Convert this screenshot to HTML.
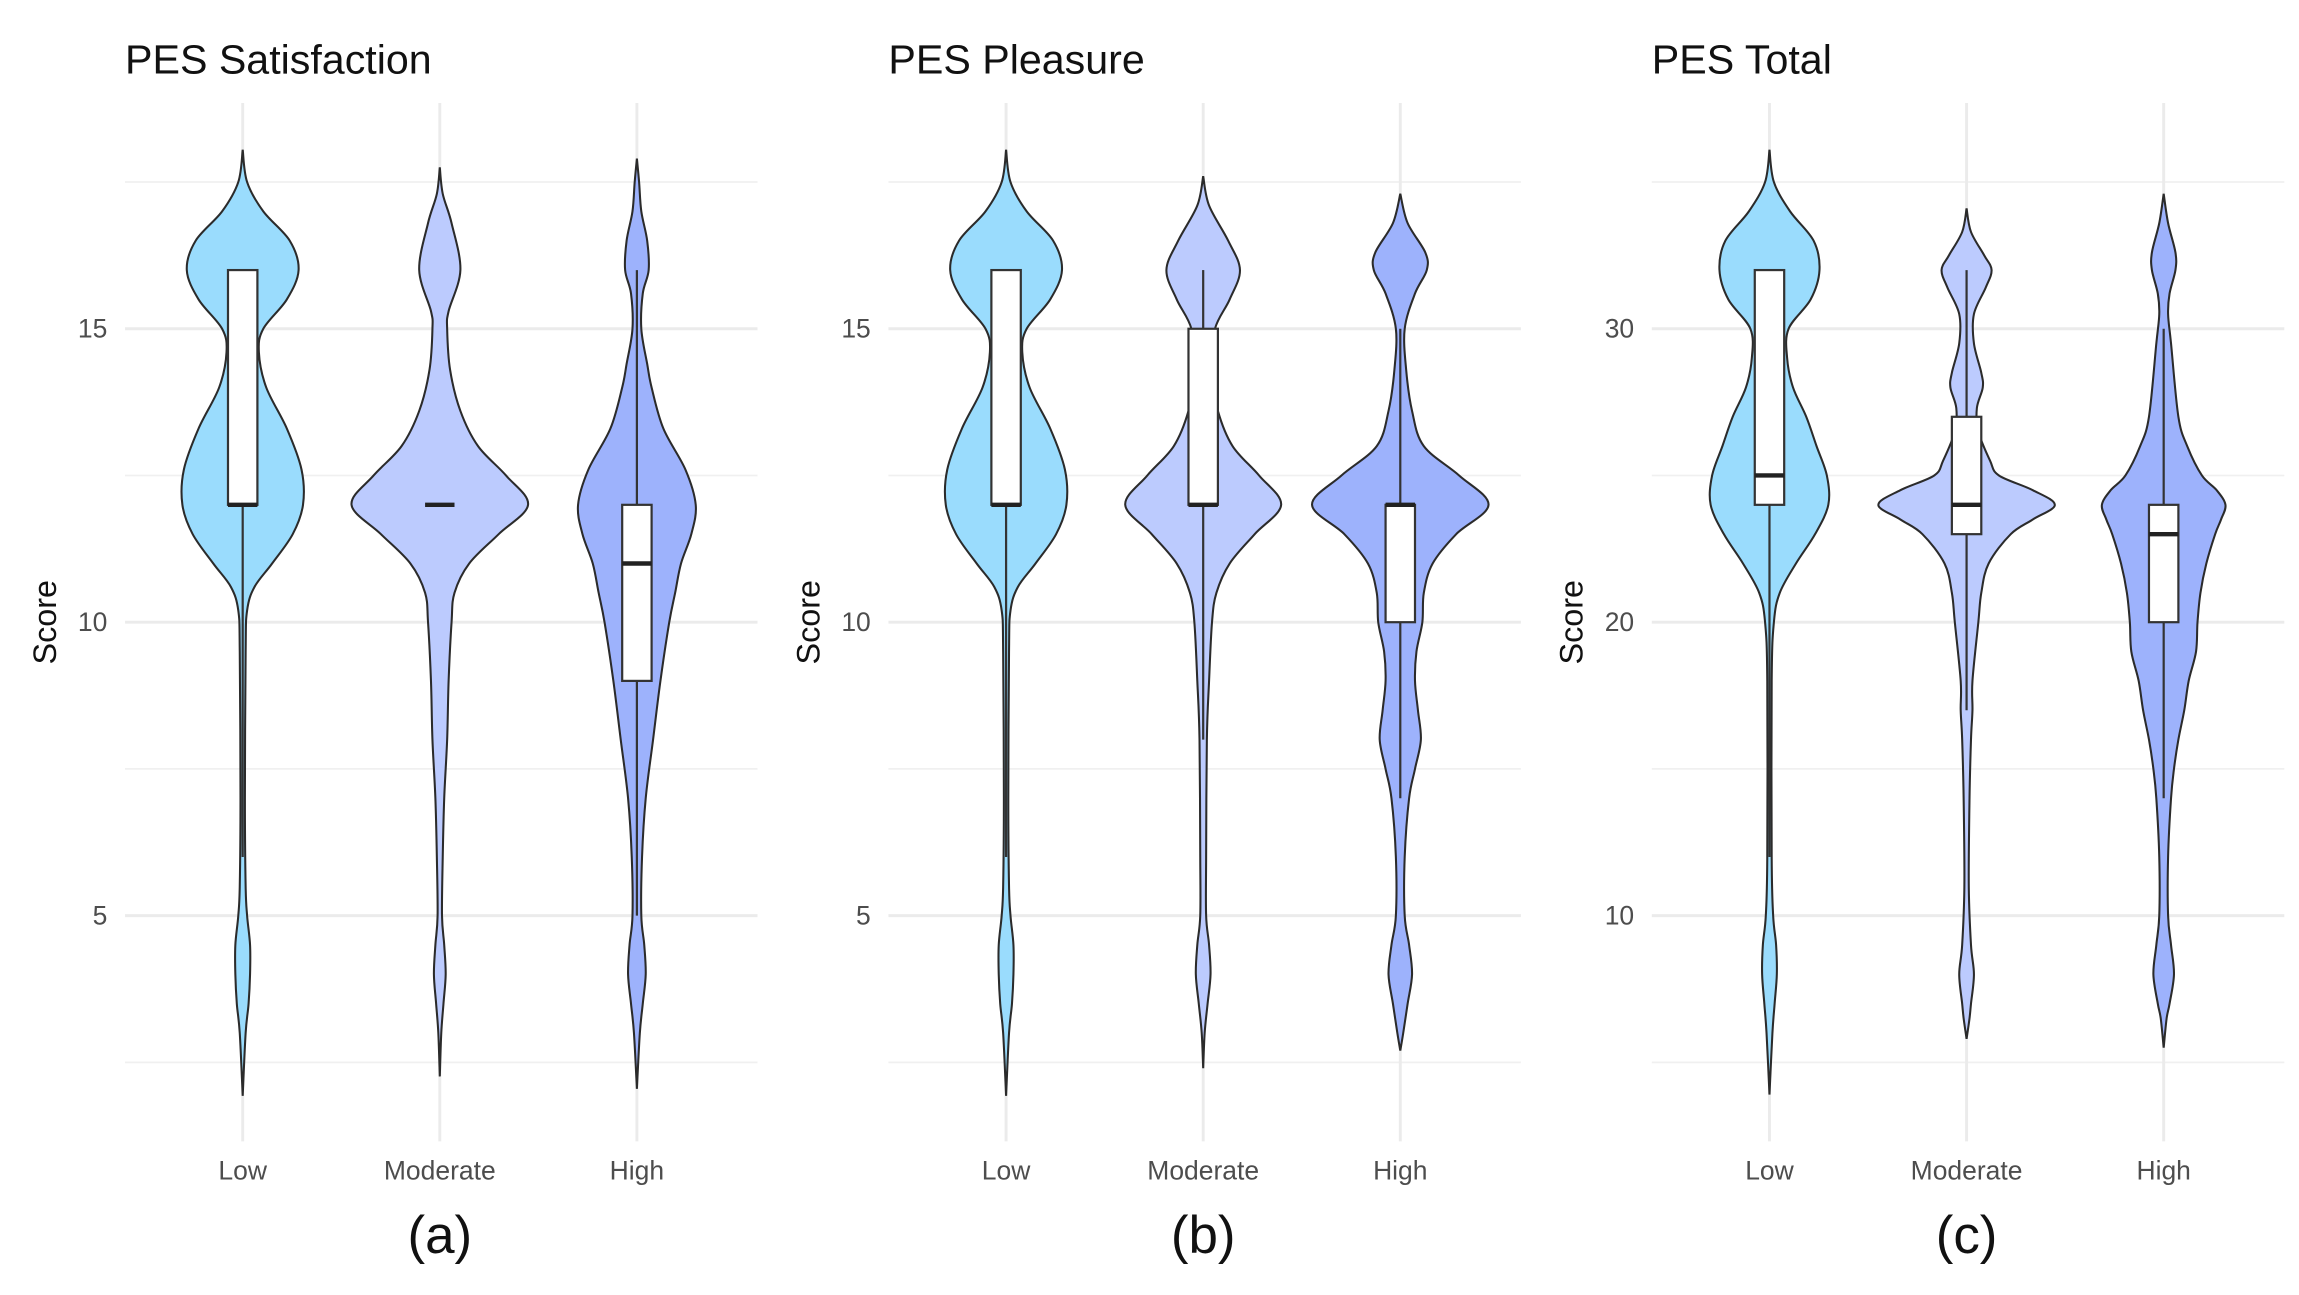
<!DOCTYPE html>
<html><head><meta charset="utf-8">
<style>
html,body{margin:0;padding:0;background:#fff;}
svg{display:block;font-family:"Liberation Sans",Arial,sans-serif;}
</style></head>
<body>
<svg id="chart" width="2299" height="1295" viewBox="0 0 1563 880.4" xmlns="http://www.w3.org/2000/svg"></svg>
<script>
// ---------- data ----------
const categories = ["Low", "Moderate", "High"];
const panelTitles = ["PES Satisfaction", "PES Pleasure", "PES Total"];
const panelLetters = ["(a)", "(b)", "(c)"];
const majorTicksA = [5, 10, 15];
const majorTicksC = [10, 20, 30];
// density profiles: [value, half-width]
const satLow = [[18.05,0],[17.5,3],[17,14],[16.5,32],[16,38],[15.5,30],[15,14],[14.6,11],[14,16],[13.3,30],[12.6,40],[12,41],[11.5,34],[11,20],[10.6,8],[10.2,3],[9.5,2],[7,1.5],[5.5,2],[5,3],[4.5,5],[4,5],[3.5,4],[3,2],[1.93,0]];
const satMod = [[17.75,0],[17.3,2],[16.8,8],[16,14],[15.3,6],[15,5],[14.3,7],[13.6,14],[13,26],[12.5,45],[12,60],[11.5,40],[11,20],[10.5,10],[10,8],[9,6],[8,5],[7,3],[6,2],[5,1.5],[4.5,3],[4,4],[3.5,2.5],[3,1],[2.26,0]];
const satHigh = [[17.9,0],[17.5,1.5],[17,3],[16.5,7],[16,8],[15.6,4],[15,3],[14.4,7],[14,10],[13.3,18],[12.6,33],[12,40],[11.5,37],[11,30],[10.5,26],[10,22],[9,16],[8,11],[7,6],[6,3.5],[5,3],[4.5,5],[4,6],[3.5,4],[3,2],[2.05,0]];
const pleLow = [[18.05,0],[17.5,3],[17,14],[16.5,32],[16,38],[15.5,30],[15,14],[14.6,11],[14,16],[13.3,30],[12.6,40],[12,41],[11.5,34],[11,20],[10.6,8],[10.2,3],[9.5,2],[7,1.5],[5.5,2],[5,3],[4.5,5],[4,5],[3.5,4],[3,2],[1.93,0]];
const pleMod = [[17.6,0],[17.1,4],[16.5,17],[16,25],[15.5,18],[15,8],[14.3,5],[13.6,10],[13,20],[12.5,38],[12,53],[11.5,35],[11,18],[10.5,9],[10,6],[9,4],[8,2.5],[6,2],[5,2],[4.5,4],[4,5],[3.5,3],[3,1],[2.4,0]];
const pleHigh = [[17.3,0],[16.8,5],[16.3,17],[16,18],[15.6,10],[15,3],[14.3,4],[13.6,8],[13,16],[12.5,40],[12,60],[11.5,38],[11,22],[10.5,16],[10,15],[9.5,11],[9,10],[8.5,12],[8,14],[7.5,10],[7,6],[6,3],[5,3],[4.5,6],[4,8],[3.5,5],[3,2],[2.7,0]];
const totLow = [[36.1,0],[35,3],[34,14],[33,30],[32,34],[31,28],[30,13],[29,12],[28,16],[27,25],[26,32],[25,39],[24,40],[23,31],[22,18],[21,7],[20,3],[18,1.5],[12,1.5],[10,2.5],[9,4.5],[8,5],[7,3.5],[6,2],[3.9,0]];
const totMod = [[34.1,0],[33.3,3],[32.5,12],[32,17],[31.4,13],[30.5,5],[29.5,5],[28.5,10],[28,11],[27.3,7],[26.5,8],[25.5,16],[25,22],[24.5,45],[24,60],[23.5,45],[23,30],[22,15],[21,10],[20,8],[18,4],[17,4],[16,3],[14,2],[11,1.5],[9,3],[8,5],[7,3],[6.5,2],[5.8,0]];
const totHigh = [[34.6,0],[33.6,3],[32.6,8],[32,8],[31.2,4],[30.5,3],[29.5,5],[27,10],[26,16],[25,26],[24.5,36],[24,42],[23.5,39],[23,35],[22,29],[21,25],[20,23],[19,22],[18,17],[17,14],[16,10],[15,7],[14,5],[12,3],[10,3],[9,5],[8,7],[7,4],[6.5,2],[5.5,0]];
// box stats: [whiskerLow, q1, median, q3, whiskerHigh]
const satBoxes = [[6,12,12,16,16],[12,12,12,12,12],[5,9,11,12,16]];
const pleBoxes = [[6,12,12,16,16],[8,12,12,15,16],[7,10,12,12,15]];
const totBoxes = [[12,24,25,32,32],[17,23,24,27,32],[14,20,23,24,30]];

const panels = [
  {violins:[satLow,satMod,satHigh], boxes:satBoxes, ticks:majorTicksA, scale:1},
  {violins:[pleLow,pleMod,pleHigh], boxes:pleBoxes, ticks:majorTicksA, scale:1},
  {violins:[totLow,totMod,totHigh], boxes:totBoxes, ticks:majorTicksC, scale:2}
];
const fills = ["#9adcfd","#bccbfe","#9db2fc"];

// ---------- drawing ----------
const NS = "http://www.w3.org/2000/svg";
const svg = document.getElementById("chart");
function mk(tag, attrs, parent){
  const e = document.createElementNS(NS, tag);
  for (const k in attrs) e.setAttribute(k, attrs[k]);
  (parent||svg).appendChild(e);
  return e;
}
function smoothPath(pts){
  let d = "M" + pts[0][0].toFixed(2) + "," + pts[0][1].toFixed(2);
  for (let i=0;i<pts.length-1;i++){
    const p0 = pts[Math.max(0,i-1)], p1 = pts[i], p2 = pts[i+1], p3 = pts[Math.min(pts.length-1,i+2)];
    const c1x = p1[0]+(p2[0]-p0[0])/6, c1y = p1[1]+(p2[1]-p0[1])/6;
    const c2x = p2[0]-(p3[0]-p1[0])/6, c2y = p2[1]-(p3[1]-p1[1])/6;
    d += " C"+c1x.toFixed(2)+","+c1y.toFixed(2)+" "+c2x.toFixed(2)+","+c2y.toFixed(2)+" "+p2[0].toFixed(2)+","+p2[1].toFixed(2);
  }
  return d;
}

panels.forEach((p, pi) => {
  const off = pi*519;
  const left = 85+off, right = 515+off;
  const catX = i => 165 + off + i*134;
  const yScale = v => 423 - (v/p.scale - 10)*39.9;
  const g = mk("g", {});
  
  

  [2.5,7.5,12.5,17.5].forEach(m => {
    const ln = mk("line", {x1:left, x2:right, y1:yScale(m*p.scale), y2:yScale(m*p.scale), stroke:"#f0f0f0", "stroke-width":1.2}, g);
    
    
  });
  p.ticks.forEach(t => {
    const y = yScale(t);
    const ln = mk("line", {x1:left, x2:right, y1:y, y2:y, stroke:"#ebebeb", "stroke-width":2}, g);
    
    
    const tx = mk("text", {x:73+off, y:y+6, "text-anchor":"end", "font-size":18, fill:"#4d4d4d"}, g);
    tx.textContent = t;
    
    
  });
  categories.forEach((c, i) => {
    const ln = mk("line", {x1:catX(i), x2:catX(i), y1:70, y2:776, stroke:"#ebebeb", "stroke-width":2}, g);
    
    
  });
  p.violins.forEach((prof, i) => {
    const cx = catX(i);
    const rightSide = prof.map(d => [cx + d[1], yScale(d[0])]);
    const leftSide = prof.slice().reverse().map(d => [cx - d[1], yScale(d[0])]);
    const d = smoothPath(rightSide) + " L" + smoothPath(leftSide).slice(1) + " Z";
    const path = mk("path", {d:d, fill:fills[i], stroke:"#2b2b2b", "stroke-width":1.4}, g);
    
    
  });
  p.boxes.forEach((b, i) => {
    const cx = catX(i), hw = 10;
    const w1 = mk("line", {x1:cx, x2:cx, y1:yScale(b[0]), y2:yScale(b[1]), stroke:"#333", "stroke-width":1.5}, g);
    
    
    const w2 = mk("line", {x1:cx, x2:cx, y1:yScale(b[3]), y2:yScale(b[4]), stroke:"#333", "stroke-width":1.5}, g);
    
    
    const r = mk("rect", {x:cx-hw, y:yScale(b[3]), width:hw*2, height:Math.max(0,yScale(b[1])-yScale(b[3])), fill:"#fff", stroke:"#333", "stroke-width":1.5}, g);
    
    
    const m = mk("line", {x1:cx-hw, x2:cx+hw, y1:yScale(b[2]), y2:yScale(b[2]), stroke:"#222", "stroke-width":3}, g);
    
    
  });
  categories.forEach((c, i) => {
    const tx = mk("text", {x:catX(i), y:802, "text-anchor":"middle", "font-size":18, fill:"#4d4d4d"}, g);
    tx.textContent = c;
    
    
  });
  const ti = mk("text", {x:85+off, y:50, "font-size":28, fill:"#111"}, g);
  ti.textContent = panelTitles[pi];
  
  
  const ya = mk("text", {x:0, y:0, "font-size":22, fill:"#111", "text-anchor":"middle", transform:"translate("+(38+off)+",423) rotate(-90)"}, g);
  ya.textContent = "Score";
  
  
  const pl = mk("text", {x:catX(1), y:852, "font-size":36, fill:"#111", "text-anchor":"middle"}, g);
  pl.textContent = panelLetters[pi];
  
  
});
</script>
</body></html>
